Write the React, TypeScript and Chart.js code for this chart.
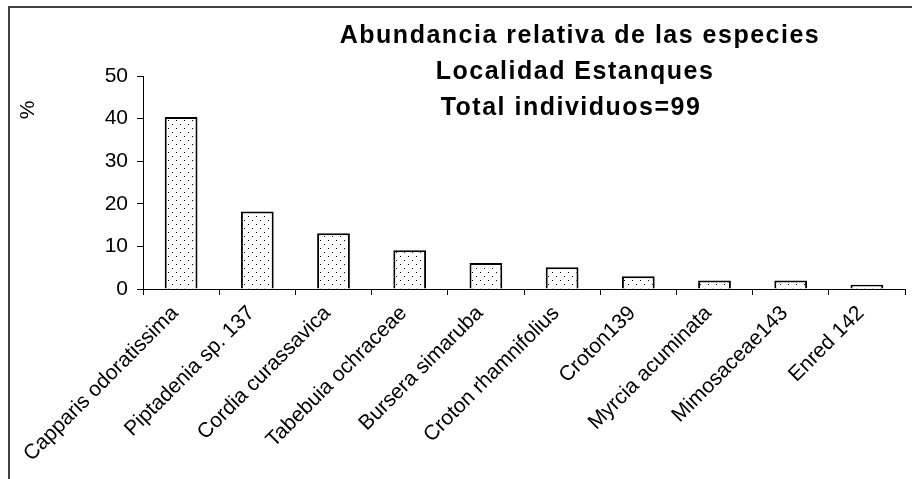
import React, { useEffect, useRef } from "react";
import { Chart, registerables } from "chart.js";

Chart.register(...registerables);

const categories = [
  "Capparis odoratissima",
  "Piptadenia sp. 137",
  "Cordia curassavica",
  "Tabebuia ochraceae",
  "Bursera simaruba",
  "Croton rhamnifolius",
  "Croton139",
  "Myrcia acuminata",
  "Mimosaceae143",
  "Enred 142",
];
const abundance = [40.4, 18.2, 13.1, 9.1, 6.1, 5.1, 3.0, 2.0, 2.0, 1.0];
const titleLines = [
  "Abundancia relativa de las especies",
  "Localidad Estanques",
  "Total individuos=99",
];
const yAxisLabel = "%";

const FONT = "'Liberation Sans', Arial, sans-serif";

function makePattern(): CanvasPattern | string {
  const c = document.createElement("canvas");
  c.width = 8;
  c.height = 8;
  const g = c.getContext("2d");
  if (!g) return "#fff";
  g.fillStyle = "#fff";
  g.fillRect(0, 0, 8, 8);
  g.fillStyle = "#000";
  g.fillRect(0, 0, 1, 1);
  g.fillRect(4, 4, 1, 1);
  return g.createPattern(c, "repeat") || "#fff";
}

const decor = {
  id: "decor",
  afterDraw(chart: any) {
    const ctx = chart.ctx;
    ctx.save();
    // frame
    ctx.strokeStyle = "#404040";
    ctx.lineWidth = 2;
    ctx.beginPath();
    ctx.moveTo(9, 479);
    ctx.lineTo(9, 7);
    ctx.lineTo(912, 7);
    ctx.stroke();
    // title
    ctx.fillStyle = "#000";
    ctx.font = `bold 25px ${FONT}`;
    try { (ctx as any).letterSpacing = "1.5px"; } catch (e) {}
    ctx.textAlign = "center";
    ctx.textBaseline = "middle";
    const cx = [580, 575, 571];
    titleLines.forEach((t, i) => ctx.fillText(t, cx[i], 36 + i * 36));
    try { (ctx as any).letterSpacing = "0px"; } catch (e) {}
    // y label
    ctx.font = `21px ${FONT}`;
    ctx.translate(28, 110);
    ctx.rotate(-Math.PI / 2);
    ctx.fillText(yAxisLabel, 0, 0);
    ctx.restore();
  },
};

export default function App() {
  const ref = useRef<HTMLCanvasElement | null>(null);
  useEffect(() => {
    if (!ref.current) return;
    const pattern = makePattern();
    const chart = new Chart(ref.current, {
      type: "bar",
      data: {
        labels: categories,
        datasets: [
          {
            data: abundance,
            backgroundColor: pattern as any,
            borderColor: "#000",
            borderWidth: 2,
            barPercentage: 0.43,
            categoryPercentage: 1,
          },
        ],
      },
      options: {
        animation: false,
        responsive: false,
        layout: { padding: { left: 0, right: 7, top: 76, bottom: 0 } },
        plugins: { legend: { display: false }, title: { display: false }, tooltip: { enabled: false } },
        scales: {
          x: {
            grid: { display: true, drawOnChartArea: false, tickLength: 6, color: "#000", offset: true },
            border: { display: true, color: "#000", width: 1 },
            ticks: {
              color: "#000",
              font: { family: FONT, size: 21 },
              maxRotation: 45,
              minRotation: 45,
              autoSkip: false,
              padding: 6,
              labelOffset: -6,
            },
            afterFit: (s: any) => {
              s.height = 190;
            },
          },
          y: {
            min: 0,
            max: 50,
            grid: { display: true, drawOnChartArea: false, tickLength: 6, color: "#000" },
            border: { display: true, color: "#000", width: 1 },
            ticks: {
              stepSize: 10,
              color: "#000",
              font: { family: FONT, size: 21 },
              padding: 9,
            },
            afterFit: (s: any) => {
              s.width = 143;
            },
          },
        },
      },
      plugins: [decor],
    });
    return () => chart.destroy();
  }, []);
  return (
    <div style={{ position: "absolute", left: 0, top: 0, width: 912, height: 479, background: "#fff" }}>
      <canvas ref={ref} width={912} height={479} style={{ display: "block" }} />
    </div>
  );
}
